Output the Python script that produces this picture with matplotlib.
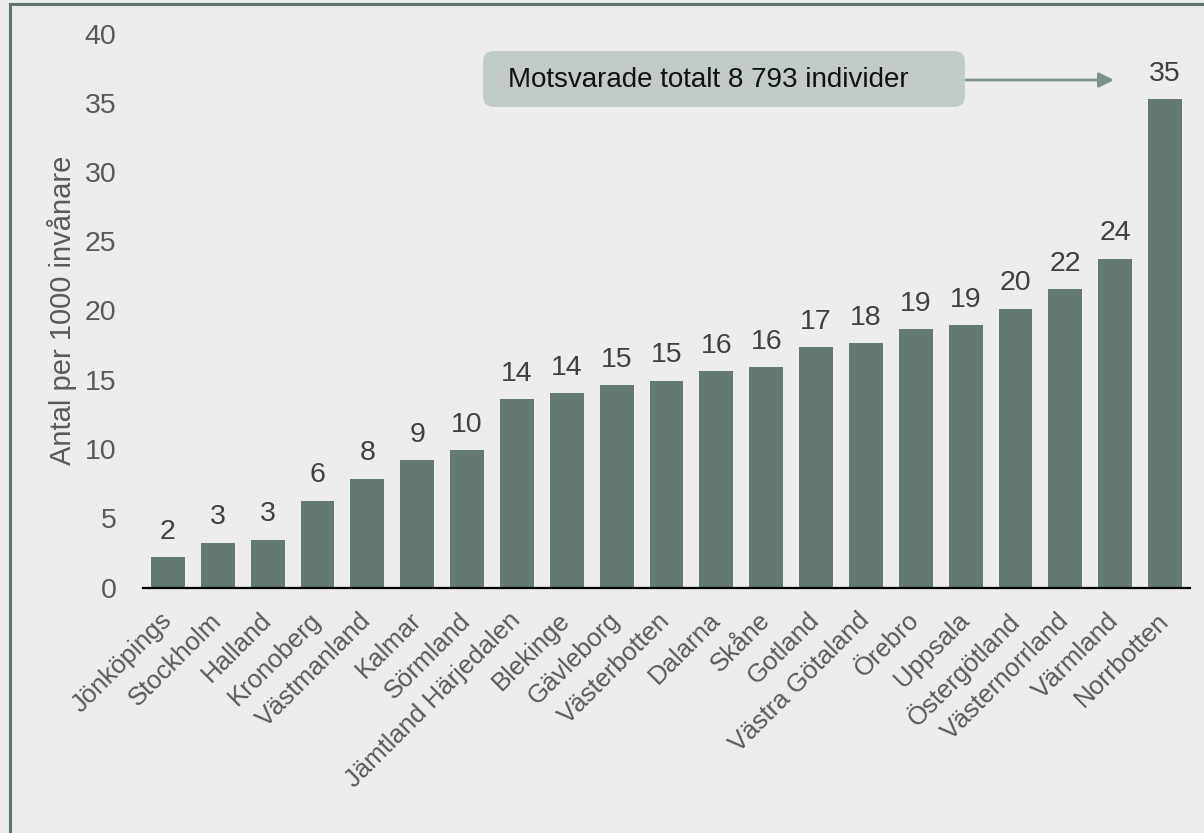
import matplotlib
matplotlib.use("Agg")
import matplotlib.pyplot as plt
from matplotlib.patches import FancyBboxPatch
from matplotlib.lines import Line2D

regions = ["Jönköpings", "Stockholm", "Halland", "Kronoberg", "Västmanland", "Kalmar",
           "Sörmland", "Jämtland Härjedalen", "Blekinge", "Gävleborg", "Västerbotten",
           "Dalarna", "Skåne", "Gotland", "Västra Götaland", "Örebro", "Uppsala",
           "Östergötland", "Västernorrland", "Värmland", "Norrbotten"]
values = [2.2, 3.22, 3.45, 6.27, 7.86, 9.17, 9.9, 13.6, 14.04, 14.62, 14.91,
          15.63, 15.92, 17.36, 17.65, 18.66, 18.95, 20.11, 21.55, 23.72, 35.25]
yticks = [0, 5, 10, 15, 20, 25, 30, 35, 40]
ylabel = "Antal per 1000 invånare"
note = "Motsvarade totalt 8 793 individer"

BG = "#EDEDED"
BAR = "#647A70"
TICK = "#595959"
VAL = "#404040"
FRAME = "#5F766E"

plt.rcParams['font.family'] = ['Liberation Sans', 'DejaVu Sans']

W, H = 1204, 833
fig = plt.figure(figsize=(W / 100, H / 100), dpi=100, facecolor=BG)
ax = fig.add_axes([143 / W, 1 - 587.5 / H, (1190 - 143) / W, (587.5 - 33.5) / H])
ax.set_facecolor(BG)

x = list(range(len(regions)))
bars = ax.bar(x, values, width=0.68, color=BAR, zorder=2)
for xi, v in zip(x, values):
    ax.annotate(f"{v:.0f}", xy=(xi, v), xytext=(0, 9), textcoords="offset points",
                ha="center", va="bottom", fontsize=20.5, color=VAL)

ax.set_xlim(-0.5, len(regions) - 0.5)
ax.set_ylim(0, 40)
ax.set_yticks(yticks)
ax.set_yticklabels([str(t) for t in yticks], fontsize=20.5, color=TICK)
ax.set_xticks(x)
ax.set_xticklabels(regions, rotation=45, ha="right", va="center",
                   rotation_mode="anchor", fontsize=18.5, color=TICK)
ax.tick_params(axis="x", length=0, pad=21)
ax.tick_params(axis="y", length=0, pad=19)
for s in ["top", "right", "left"]:
    ax.spines[s].set_visible(False)
ax.spines["bottom"].set_color("black")
ax.spines["bottom"].set_linewidth(1.6)
ax.set_ylabel(ylabel, fontsize=21, color=TICK, labelpad=6)

# annotation box + arrow
box = FancyBboxPatch((483 / W, 1 - 107 / H), (965 - 483) / W, (107 - 51) / H,
                     boxstyle="round,pad=0,rounding_size=0.009",
                     transform=fig.transFigure, facecolor="#C1CCC6", edgecolor="none",
                     mutation_aspect=W / H)
fig.patches.append(box)
fig.text(508 / W, 1 - 80 / H, note, fontsize=20, color="#111111", ha="left", va="center")
fig.add_artist(matplotlib.patches.FancyArrowPatch(
    (966 / W, 1 - 80 / H), (1114 / W, 1 - 80 / H), transform=fig.transFigure,
    arrowstyle="-|>,head_length=9,head_width=4.5", mutation_scale=1,
    color="#7D9189", linewidth=2, shrinkA=0, shrinkB=0))

# frame (top and left)
fig.add_artist(Line2D([10 / W, 1], [1 - 4 / H, 1 - 4 / H], transform=fig.transFigure,
                      color=FRAME, linewidth=2.2))
fig.add_artist(Line2D([10 / W, 10 / W], [0, 1 - 4 / H], transform=fig.transFigure,
                      color=FRAME, linewidth=2.2))

fig.savefig("out.png", dpi=100, facecolor=BG)
